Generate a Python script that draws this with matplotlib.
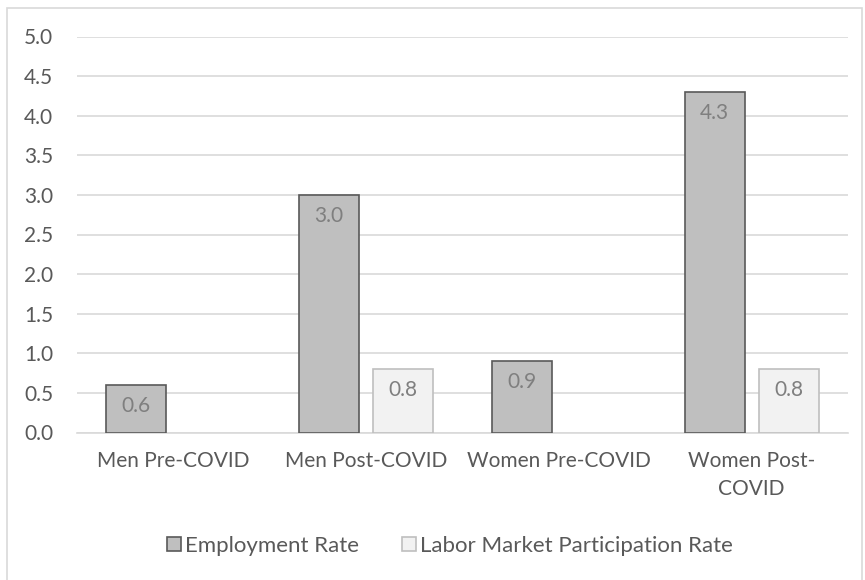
import numpy as np
import matplotlib
matplotlib.use("Agg")
import matplotlib.pyplot as plt
from matplotlib.patches import Rectangle

plt.rcParams['font.family'] = ['Lato', 'DejaVu Sans']

categories = ["Men Pre-COVID", "Men Post-COVID", "Women Pre-COVID", "Women Post-\nCOVID"]
employment = [0.6, 3.0, 0.9, 4.3]
participation = [None, 0.8, None, 0.8]
series_names = ["Employment Rate", "Labor Market Participation Rate"]

txt = "#595959"
grid = "#d9d9d9"
fs = 15

fig = plt.figure(figsize=(8.65, 5.8), dpi=100)
ax = fig.add_axes([77/865, 1 - 432.5/580, 771/865, 396/580])

x = np.arange(len(categories))
w = 0.311
off = 0.192

emp_bars = ax.bar(x - off, employment, w, color="#bfbfbf", edgecolor="#595959", linewidth=1.2, zorder=3)
px = [i for i, v in enumerate(participation) if v is not None]
pv = [participation[i] for i in px]
par_bars = ax.bar(np.array(px) + off, pv, w, color="#f2f2f2", edgecolor="#bfbfbf", linewidth=1.2, zorder=3)

for bars, vals in ((emp_bars, employment), (par_bars, pv)):
    for b, v in zip(bars, vals):
        ax.annotate(f"{v:.1f}", (b.get_x() + b.get_width() / 2, v), xytext=(0, -8),
                    textcoords="offset points", ha="center", va="top",
                    fontsize=fs, color="#7f7f7f", zorder=4)

ax.set_xlim(-0.5, len(categories) - 0.5)
ax.set_ylim(0, 5.0)
ax.set_yticks(np.arange(0, 5.01, 0.5))
ax.set_yticklabels([f"{t:.1f}" for t in np.arange(0, 5.01, 0.5)])
ax.set_xticks(x)
ax.set_xticklabels(categories, linespacing=1.55)
ax.yaxis.grid(True, color=grid, linewidth=1.2, zorder=0)
ax.set_axisbelow(True)
for s in ("top", "right", "left"):
    ax.spines[s].set_visible(False)
ax.spines["bottom"].set_color(grid)
ax.spines["bottom"].set_linewidth(1.2)
ax.tick_params(axis="both", length=0, labelsize=fs, colors=txt)
ax.tick_params(axis="x", pad=13)
ax.tick_params(axis="y", pad=17)

leg = fig.legend([emp_bars[0], par_bars[0]], series_names, loc="center",
                 bbox_to_anchor=(450/865, 1 - 546/580), ncol=2, frameon=False,
                 fontsize=16, handlelength=0.63, handleheight=0.63, handletextpad=0.18,
                 columnspacing=1.94, borderpad=0, borderaxespad=0)
for t in leg.get_texts():
    t.set_color(txt)

# outer chart frame (bottom edge runs off the image)
fig.patches.append(Rectangle((7/865, -10/580), 855/865, 582/580, transform=fig.transFigure,
                             fill=False, edgecolor=grid, linewidth=1.2))

fig.savefig("out.png", dpi=100)
